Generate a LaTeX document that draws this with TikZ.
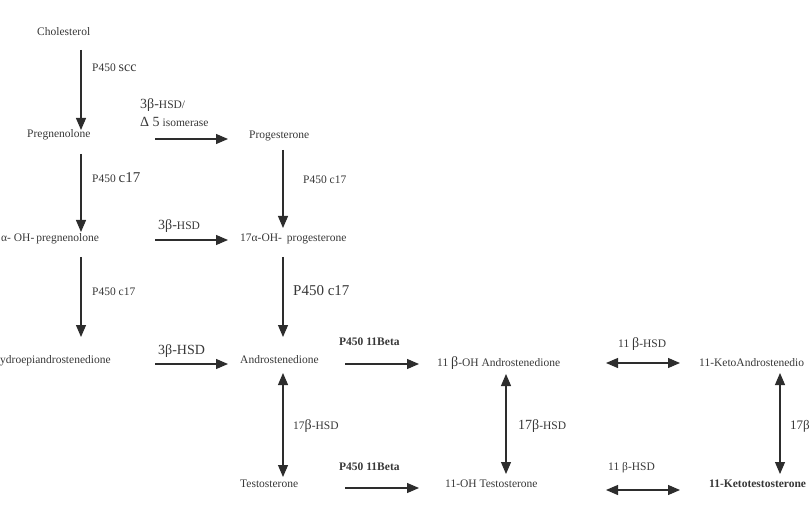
\documentclass[tikz,border=0pt]{standalone}
\usepackage{fontspec}
\setmainfont{Liberation Serif}
\usepackage{tikz}
\usetikzlibrary{arrows.meta, positioning}
\definecolor{ink}{RGB}{45, 45, 45}
\definecolor{txt}{RGB}{55, 55, 55}
\newcommand{\fs}[1]{\fontsize{#1}{#1}\selectfont}

\begin{document}
\begin{tikzpicture}[x=1pt, y=-1pt, >={Triangle[length=12pt, width=10pt]},
    arr/.style={->, line width=1.1pt, color=ink},
    dbl/.style={<->, line width=1.1pt, color=ink},
    cmpd/.style={anchor=base west, inner sep=0pt, text=txt, font=\fs{11.5}},
    enz/.style={anchor=base west, inner sep=0pt, text=txt, font=\fs{11.5}}]
    \useasboundingbox (0,0) rectangle (810,526);

    % compounds
    \node[cmpd] (chol)  at (37,36)  {Cholesterol};
    \node[cmpd] (preg)  at (27,138) {Pregnenolone};
    \node[cmpd] (prog)  at (249,139) {Progesterone};
    \node[cmpd] (ohpreg) at (1,242) {α- OH-\hspace{2pt}pregnenolone};
    \node[cmpd] (ohprog) at (240,242) {17α-OH-\hspace{5pt}progesterone};
    \node[cmpd] (dhea)  at (0,363)  {ydroepiandrostenedione};
    \node[cmpd] (andro) at (240,363) {Androstenedione};
    \node[cmpd] (ohandro) at (437,366) {11 {\fs{14}β}-OH Androstenedione};
    \node[cmpd] (ketoandro) at (699,366) {11-KetoAndrostenedio};
    \node[cmpd] (testo) at (240,487) {Testosterone};
    \node[cmpd] (ohtesto) at (445,487) {11-OH Testosterone};
    \node[cmpd, font=\fs{11.5}\bfseries] (ketotesto) at (709,487) {11-Ketotestosterone};

    % enzymes
    \node[enz] (scc)   at (92,72)   {P450 {\fs{14}scc}};
    \node[enz] (hsdA)  at (140,109) {{\fs{14}3β-}HSD/};
    \node[enz] (iso)   at (140,127) {{\fs{14}Δ 5} isomerase};
    \node[enz] (cypA)  at (92,183)  {P450 {\fs{15}c17}};
    \node[enz] (cypB)  at (303,184) {P450 c17};
    \node[enz] (hsdB)  at (158,230) {{\fs{14}3β-}HSD};
    \node[enz] (cypC)  at (92,295)  {P450 c17};
    \node[enz, font=\fs{15}] (cypD) at (293,295) {P450 c17};
    \node[enz] (hsdC)  at (158,354) {{\fs{14}3β-HSD}};
    \node[enz, font=\fs{11.5}\bfseries] (betaA) at (339,345) {P450 11Beta};
    \node[enz] (hsdD)  at (618,347) {11 {\fs{14}β}-HSD};
    \node[enz] (hsdE)  at (293,429) {17{\fs{14}β}-HSD};
    \node[enz] (hsdF)  at (518,429) {{\fs{14}17β}-HSD};
    \node[enz] (hsdG)  at (790,429) {{\fs{13}17β}};
    \node[enz, font=\fs{11.5}\bfseries] (betaB) at (339,470) {P450 11Beta};
    \node[enz] (hsdH)  at (608,470) {11 β-HSD};

    % arrow ends
    \coordinate (cholS) at (81,50);   \coordinate (pregN) at (81,130);
    \coordinate (pregE) at (155,139); \coordinate (progW) at (228,139);
    \coordinate (pregS) at (81,154);  \coordinate (ohpregN) at (81,232);
    \coordinate (progS) at (283,150); \coordinate (ohprogN) at (283,228);
    \coordinate (ohpregE) at (155,240); \coordinate (ohprogW) at (228,240);
    \coordinate (ohpregS) at (81,257); \coordinate (dheaN) at (81,337);
    \coordinate (ohprogS) at (283,257); \coordinate (androN) at (283,337);
    \coordinate (dheaE) at (155,364); \coordinate (androW) at (228,364);
    \coordinate (androE) at (345,364); \coordinate (ohandroW) at (419,364);
    \coordinate (androS) at (283,373); \coordinate (testoN) at (283,477);
    \coordinate (ohandroE) at (606,363); \coordinate (ketoandroW) at (680,363);
    \coordinate (ohandroS) at (506,374); \coordinate (ohtestoN) at (506,474);
    \coordinate (ketoandroS) at (780,373); \coordinate (ketotestoN) at (780,474);
    \coordinate (testoE) at (345,488); \coordinate (ohtestoW) at (419,488);
    \coordinate (ohtestoE) at (606,490); \coordinate (ketotestoW) at (680,490);

    \draw[arr] (cholS) -- (pregN);
    \draw[arr] (pregE) -- (progW);
    \draw[arr] (pregS) -- (ohpregN);
    \draw[arr] (progS) -- (ohprogN);
    \draw[arr] (ohpregE) -- (ohprogW);
    \draw[arr] (ohpregS) -- (dheaN);
    \draw[arr] (ohprogS) -- (androN);
    \draw[arr] (dheaE) -- (androW);
    \draw[arr] (androE) -- (ohandroW);
    \draw[dbl] (androS) -- (testoN);
    \draw[dbl] (ohandroE) -- (ketoandroW);
    \draw[dbl] (ohandroS) -- (ohtestoN);
    \draw[dbl] (ketoandroS) -- (ketotestoN);
    \draw[arr] (testoE) -- (ohtestoW);
    \draw[dbl] (ohtestoE) -- (ketotestoW);
\end{tikzpicture}
\end{document}
